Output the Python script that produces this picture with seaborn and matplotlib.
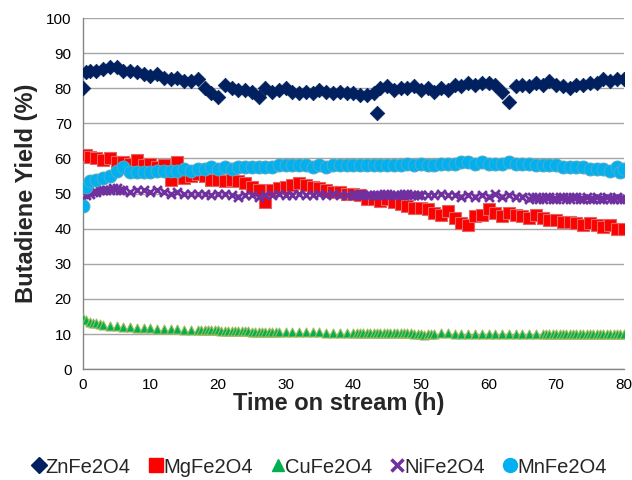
import matplotlib
matplotlib.use("Agg")
import matplotlib.pyplot as plt
import seaborn as sns
import pandas as pd
from matplotlib.lines import Line2D

# ZnFe2O4
zn_t = [0, 0.5, 1, 2, 3, 4, 5, 6, 7, 8, 9, 10, 11, 12, 13, 14, 15, 16, 17, 18, 19, 20,
        21, 22, 23, 24, 25, 26, 27, 28, 29, 30, 31, 32, 33, 34, 35, 36, 37, 38, 39, 40,
        41, 42, 43, 43.5, 44, 45, 46, 47, 48, 49, 50, 51, 52, 53, 54, 55, 56, 57, 58, 59,
        60, 61, 62, 63, 64, 65, 66, 67, 68, 69, 70, 71, 72, 73, 74, 75, 76, 77, 78, 79, 80]
zn_y = [80, 84.5, 85, 85, 85.5, 86, 86, 85, 85, 84.5, 84, 83.5, 84, 83, 82.5, 83, 82, 82, 82.5, 80, 78.5, 77.5,
        81, 80, 79.5, 79.5, 79, 77.5, 80, 79, 79.5, 80, 79, 78.5, 79, 78.5, 79.5, 79, 78.5, 79, 78.5, 78.5,
        78, 78, 78.5, 73, 80, 80.5, 79.5, 80, 80, 80.5, 79.5, 80, 79, 80, 79.5, 81, 80.5, 81.5, 81, 81.5,
        81.5, 81, 79, 76, 80.5, 81, 80.5, 81.5, 81, 82, 81, 80.5, 80, 81, 81, 81.5, 81.5, 82.5, 82, 82.5, 82.5]

# MgFe2O4
mg_t = [0, 0.5, 1, 2, 3, 4, 5, 6, 7, 8, 9, 10, 11, 12, 13, 14, 15, 16, 17, 18, 19, 20,
        21, 22, 23, 24, 25, 26, 27, 28, 29, 30, 31, 32, 33, 34, 35, 36, 37, 38, 39, 40,
        41, 42, 43, 44, 45, 46, 47, 48, 49, 50, 51, 52, 53, 54, 55, 56, 57, 58, 59, 60,
        61, 62, 63, 64, 65, 66, 67, 68, 69, 70, 71, 72, 73, 74, 75, 76, 77, 78, 79, 80]
mg_y = [61, 61, 60.5, 60, 59.5, 60, 59, 59, 58.5, 59.5, 58, 58.5, 57.5, 58, 54, 59, 54.5, 55, 55.5, 55, 54, 54,
        53.5, 54, 53.5, 53, 52, 51, 47.5, 51, 51.5, 52, 52.5, 53, 52.5, 52, 51.5, 51, 50.5, 50.5, 50, 50,
        49.5, 48.5, 48.5, 48, 48.5, 47.5, 47, 46.5, 46, 46, 45.5, 44.5, 44, 45, 43, 41.5, 41, 43.5, 44, 45.5,
        44.5, 43.5, 44.5, 44, 43.5, 43, 44, 43, 42.5, 42.5, 42, 42, 41.5, 41, 41.5, 41, 40.5, 41, 40, 40]

# CuFe2O4
cu_t = [0, 0.5, 1, 1.5, 2, 2.5, 3,
        4, 5, 6, 7, 8, 9, 10, 11, 12, 13, 14, 15, 16,
        17, 17.5, 18, 18.5, 19, 19.5, 20, 20.5, 21, 21.5, 22, 22.5, 23, 23.5, 24, 24.5,
        25, 25.5, 26, 26.5, 27, 27.5, 28, 28.5, 29,
        30, 31, 32, 33, 34, 35, 36, 37, 38, 39, 40,
        40.5, 41, 41.5, 42, 42.5, 43, 43.5, 44, 44.5, 45, 45.5, 46, 46.5, 47, 47.5, 48,
        48.5, 49, 49.5, 50, 50.5, 51, 51.5, 52,
        53, 54, 55, 56, 57, 58, 59, 60, 61, 62, 63, 64, 65, 66, 67, 68,
        68.5, 69, 69.5, 70, 70.5, 71, 71.5, 72, 72.5, 73, 73.5, 74, 74.5, 75, 75.5, 76,
        76.5, 77, 77.5, 78, 78.5, 79, 79.5, 80]
cu_y = [14.5, 14, 13.5, 13.2, 13, 12.8, 12.6,
        12.4, 12.2, 12, 11.9, 11.8, 11.7, 11.6, 11.5, 11.4, 11.4, 11.3, 11.2, 11.2,
        11.1, 11.1, 11.1, 11, 11, 11, 11, 10.9, 10.9, 10.9, 10.9, 10.8, 10.8, 10.8, 10.8, 10.8,
        10.7, 10.7, 10.7, 10.7, 10.7, 10.6, 10.6, 10.6, 10.6,
        10.6, 10.5, 10.5, 10.5, 10.5, 10.5, 10.4, 10.4, 10.4, 10.4, 10.4,
        10.4, 10.4, 10.3, 10.3, 10.3, 10.3, 10.3, 10.3, 10.3, 10.2, 10.2, 10.2, 10.2, 10.2, 10.2, 10.2,
        10.2, 10.1, 10.1, 10.1, 9.6, 10.1, 10.1, 10.1,
        10.2, 10.2, 10.1, 10.1, 10.1, 10.1, 10.1, 10.1, 10.1, 10.1, 10.1, 10, 10, 10, 10.1, 10.1,
        10.1, 10.1, 10.1, 10.1, 10.1, 10, 10, 10, 10, 10, 10, 10, 10, 10.1, 10.1, 10,
        10, 10.1, 10.1, 10.1, 10.1, 10.1, 10, 10]

# NiFe2O4
ni_t = [0, 0.5, 1, 1.5, 2, 2.5, 3, 3.5, 4, 4.5, 5, 5.5, 6, 7, 8, 9, 10, 11, 12, 13, 14, 15, 16, 17, 18, 19, 20,
        21, 22, 23, 24, 25, 26, 27, 28, 29, 30, 31, 32, 33, 34, 35, 36, 37, 38, 39, 40,
        40.5, 41, 41.5, 42, 42.5, 43, 43.5, 44, 44.5, 45, 45.5, 46, 46.5, 47, 47.5, 48, 48.5, 49, 49.5, 50,
        51, 52, 53, 54, 55, 56, 57, 58, 59, 60, 61, 62, 63, 64, 65, 66,
        66.5, 67, 67.5, 68, 68.5, 69, 69.5, 70, 70.5, 71, 71.5, 72, 72.5, 73, 73.5, 74, 74.5, 75, 75.5, 76,
        76.5, 77, 77.5, 78, 78.5, 79, 79.5, 80]
ni_y = [48.5, 49.5, 50, 50.5, 50.5, 51, 51, 51, 51, 51.5, 51.5, 51, 51, 50.5, 51, 51, 50.5, 51, 50.5, 50, 50.5, 50, 50, 50, 50, 49.5, 50,
        50, 49.5, 49, 49.5, 49.5, 49, 49.5, 49.5, 50, 49.5, 49.5, 50, 49.5, 49.5, 50, 49.5, 50, 49.5, 49.5, 49.5,
        49.5, 50, 49.5, 49.5, 49.5, 49.5, 49.5, 49.5, 50, 50, 49.5, 49.5, 49.5, 49.5, 50, 50, 49.5, 49.5, 49.5, 49.5,
        49.5, 49.5, 50, 49.5, 49.5, 49, 49.5, 49, 49.5, 49, 50, 49, 49.5, 49, 49, 48.5,
        49, 49, 48.5, 48.5, 49, 49, 48.5, 48.5, 49, 49, 48.5, 48.5, 49, 49, 48.5, 48.5, 49, 48.5, 48.5, 49,
        48.5, 48.5, 49, 48.5, 48.5, 49, 48.5, 48.5]

# MnFe2O4
mn_t = [0, 0.5, 1, 2, 3, 4, 5, 6, 7, 8, 9, 10, 11, 12, 13, 14, 15, 16, 17, 18, 19, 20,
        21, 22, 23, 24, 25, 26, 27, 28, 29, 30, 31, 32, 33, 34, 35, 36, 37, 38, 39, 40,
        41, 42, 43, 44, 45, 46, 47, 48, 49, 50, 51, 52, 53, 54, 55, 56, 57, 58, 59, 60,
        61, 62, 63, 64, 65, 66, 67, 68, 69, 70, 71, 72, 73, 74, 75, 76, 77, 78, 79, 79.5, 80]
mn_y = [46.5, 52, 53.5, 54, 54.5, 55, 56.5, 57.5, 56, 56, 56, 56, 56.5, 56.5, 56.5, 56.5, 57, 56.5, 57, 57, 57.5, 57,
        57.5, 57, 57.5, 57.5, 57.5, 57.5, 57.5, 57.5, 58, 58, 58, 58, 58, 57.5, 58, 57.5, 58, 58, 58, 58,
        58, 58, 58, 58, 58, 58, 58, 58.5, 58, 58.5, 58, 58, 58.5, 58.5, 58.5, 59, 59, 58.5, 59, 58.5,
        58.5, 58.5, 59, 58.5, 58.5, 58.5, 58, 58, 58, 58, 57.5, 57.5, 57.5, 57.5, 57, 57, 57, 56.5, 57.5, 56, 57]

series_names = ["ZnFe2O4", "MgFe2O4", "CuFe2O4", "NiFe2O4", "MnFe2O4"]

sns.set_theme(style="white")
plt.rcParams["font.family"] = ["Liberation Sans", "DejaVu Sans"]

fig = plt.figure(figsize=(6.32, 4.80), dpi=100)
ax = fig.add_axes([0.131, 0.231, 0.856, 0.7315])

styles = {
    "ZnFe2O4": dict(marker="D", s=55, color="#002060", edgecolor="#002060", linewidth=0.5),
    "MgFe2O4": dict(marker="s", s=66, color="#FF0000", edgecolor="#E06666", linewidth=0.8),
    "CuFe2O4": dict(marker="^", s=42, color="#00B050", edgecolor="#9BBB59", linewidth=0.8),
    "NiFe2O4": dict(marker="x", s=40, color="#7030A0", linewidth=2.0),
    "MnFe2O4": dict(marker="o", s=85, color="#00B0F0", edgecolor="#4BACC6", linewidth=0.8),
}
data = {
    "ZnFe2O4": (zn_t, zn_y),
    "MgFe2O4": (mg_t, mg_y),
    "CuFe2O4": (cu_t, cu_y),
    "NiFe2O4": (ni_t, ni_y),
    "MnFe2O4": (mn_t, mn_y),
}

for name in series_names:
    t, y = data[name]
    df = pd.DataFrame({"t": t, "y": y})
    sns.scatterplot(data=df, x="t", y="y", ax=ax, legend=False, zorder=3, **styles[name])

ax.set_xlim(0, 80)
ax.set_ylim(0, 100)
ax.set_xticks(range(0, 81, 10))
ax.set_yticks(range(0, 101, 10))
ax.grid(axis="y", color="#A6A6A6", linewidth=1.0)
ax.grid(axis="x", visible=False)
ax.set_axisbelow(True)
for side in ["top", "right"]:
    ax.spines[side].set_visible(False)
for side in ["left", "bottom"]:
    ax.spines[side].set_color("#868686")
    ax.spines[side].set_linewidth(1.0)
ax.tick_params(axis="both", which="major", direction="out", length=5, width=1,
               color="#868686", labelsize=11, labelcolor="black", pad=3)
ax.tick_params(axis="x", pad=1.5)
ax.set_xlabel("Time on stream (h)", fontsize=17, fontweight="bold", va="top")
ax.xaxis.set_label_coords(0.473, -0.064)
ax.set_ylabel("Butadiene Yield (%)", fontsize=17, fontweight="bold", labelpad=6)

handles = []
for name in series_names:
    st = styles[name]
    if st["marker"] == "x":
        h = Line2D([], [], linestyle="none", marker="x", color=st["color"], markersize=9,
                   markeredgewidth=2.5)
    else:
        size = {"D": 8, "s": 10, "^": 9, "o": 10}[st["marker"]]
        h = Line2D([], [], linestyle="none", marker=st["marker"], markerfacecolor=st["color"],
                   markeredgecolor=st["color"], markersize=size)
    handles.append(h)
fig.legend(handles, series_names, loc="center", bbox_to_anchor=(0.505, 0.027), ncol=5,
           frameon=False, fontsize=14.5, handletextpad=0.0, columnspacing=0.9, handlelength=0.7)

fig.savefig("out.png", dpi=100)
